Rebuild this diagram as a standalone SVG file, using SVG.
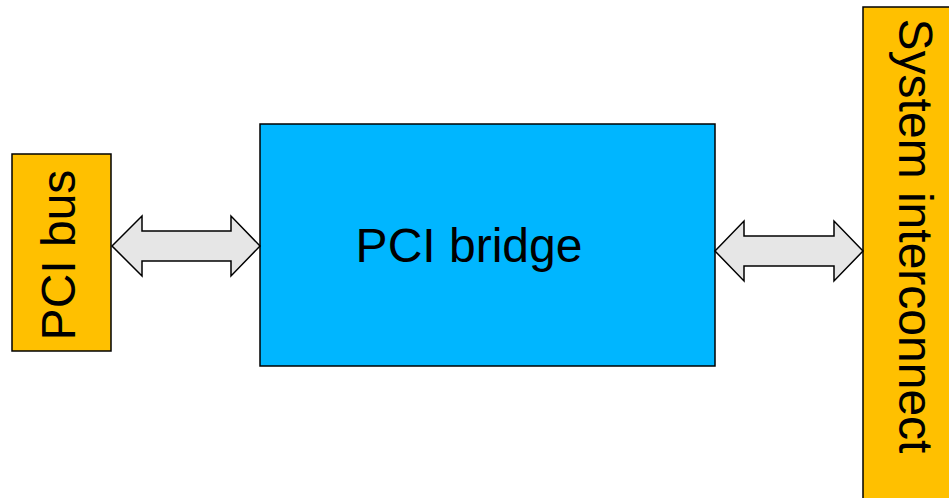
<svg xmlns="http://www.w3.org/2000/svg" width="949" height="498" viewBox="0 0 949 498">
<style>
.box{stroke:#000;stroke-width:1.5}
.bus{fill:#FFC000}
.bridge{fill:#00B6FF}
.arrow{fill:#E6E6E6;stroke:#000;stroke-width:1.5;stroke-linejoin:miter}
text{font-family:"Liberation Sans",Arial,sans-serif;font-size:48px;fill:#000}
</style>
<rect width="949" height="498" fill="#fff"/>
<g id="pci-bus">
<rect class="box bus" x="12" y="154" width="99" height="197"/>
<text transform="translate(75,255) rotate(-90)" text-anchor="middle">PCI bus</text>
</g>
<g id="pci-bridge">
<rect class="box bridge" x="260" y="124" width="455" height="242"/>
<text x="469" y="262" text-anchor="middle">PCI bridge</text>
</g>
<g id="system-interconnect">
<rect class="box bus" x="863" y="7" width="95" height="500"/>
<text transform="translate(899,236) rotate(90)" text-anchor="middle">System interconnect</text>
</g>
<g id="connectors">
<polygon class="arrow" points="112,246 142,216 142,231 231,231 231,216 260,246 231,276 231,261 142,261 142,276"/>
<polygon class="arrow" points="715,251 744,221 744,236 834,236 834,221 863,251 834,281 834,266 744,266 744,281"/>
</g>
</svg>
